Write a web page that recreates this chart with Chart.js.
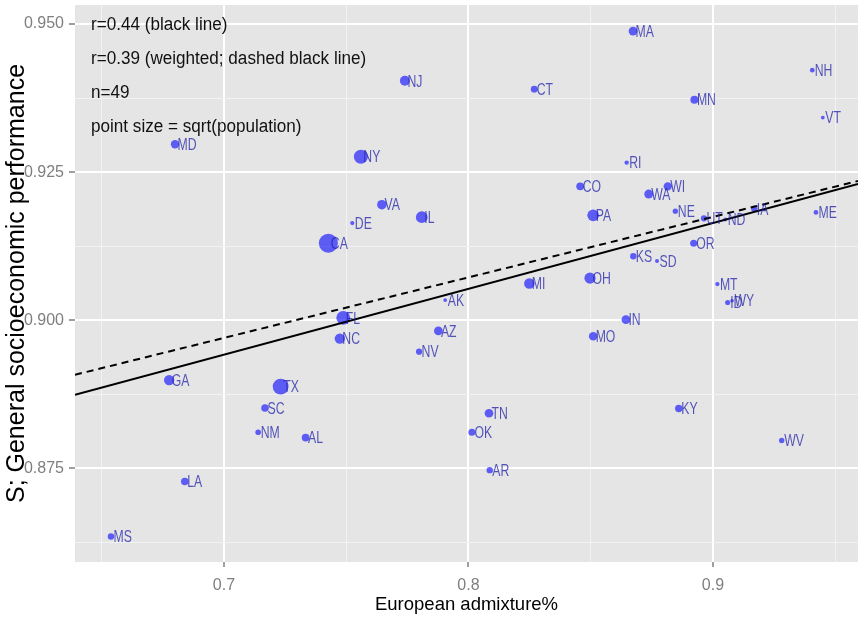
<!DOCTYPE html>
<html>
<head>
<meta charset="utf-8">
<script src="https://cdn.jsdelivr.net/npm/chart.js@4.4.1/dist/chart.umd.min.js"></script>
<style>
  html, body { margin: 0; padding: 0; background: #ffffff; }
  #wrap { width: 860px; height: 626px; }
</style>
</head>
<body>
<div id="wrap"><canvas id="chart" width="860" height="626"></canvas></div>
<script>
// State abbreviations
const states = ['MA','NH','CT','MN','VT','RI','CO','WI','WA','PA','NE','UT','ND','IA','ME','OR','KS','SD','MI','OH','MT','ID','WY','AK','IN','MO','AZ','NV','TN','OK','AR','KY','WV','NJ','MD','NY','VA','IL','DE','CA','FL','NC','GA','TX','SC','NM','AL','LA','MS'];
// European admixture (fraction)
const europeanAdmixture = [0.8673,0.9406,0.8269,0.8924,0.9449,0.8647,0.8457,0.8815,0.8737,0.8510,0.8846,0.8963,0.9050,0.9169,0.9421,0.8921,0.8674,0.8771,0.8249,0.8497,0.9018,0.9060,0.9078,0.7905,0.8644,0.8510,0.7877,0.7798,0.8084,0.8014,0.8087,0.8860,0.9281,0.7740,0.6800,0.7560,0.7646,0.7809,0.7525,0.7427,0.7488,0.7474,0.6776,0.7232,0.7168,0.7140,0.7334,0.6840,0.6538];
// S: general socioeconomic performance
const sScore = [0.9488,0.9422,0.9390,0.9372,0.9342,0.9266,0.9226,0.9226,0.9213,0.9177,0.9184,0.9172,0.9170,0.9188,0.9182,0.9130,0.9108,0.9100,0.9062,0.9071,0.9061,0.9030,0.9033,0.9034,0.9001,0.8973,0.8982,0.8947,0.8843,0.8811,0.8747,0.8851,0.8797,0.9404,0.9297,0.9276,0.9195,0.9174,0.9164,0.9130,0.9004,0.8969,0.8899,0.8888,0.8852,0.8811,0.8802,0.8728,0.8635];
// Population, millions
const populationMillions = [6.5,1.3,3.6,5.3,0.63,1.05,5.0,5.7,6.7,12.7,1.8,2.8,0.67,3.0,1.3,3.8,2.9,0.8,9.9,11.5,1.0,1.6,0.56,0.7,6.5,6.0,6.4,2.7,6.3,3.8,2.9,4.3,1.9,8.8,5.8,19.4,8.0,12.8,0.9,37.3,18.8,9.5,9.7,25.1,4.6,2.1,4.8,4.5,3.0];

// Fitted lines at both ends of the x range
const fitX = [0.6391, 0.9593];
const olsFitY = [0.8874, 0.9230];
const weightedFitY = [0.8908, 0.9235];

// Axis ticks
const xTicks = [0.65, 0.7, 0.75, 0.8, 0.85, 0.9, 0.95];
const xMajor = [0.7, 0.8, 0.9];
const yTicks = [0.8625, 0.875, 0.8875, 0.9, 0.9125, 0.925, 0.9375, 0.95];
const yMajor = [0.875, 0.9, 0.925, 0.95];

const notes = ['r=0.44 (black line)', 'r=0.39 (weighted; dashed black line)', 'n=49', 'point size = sqrt(population)'];

const isIn = (v, list) => list.some(m => Math.abs(m - v) < 1e-9);

const sqrtPop = populationMillions.map(Math.sqrt);
const sMin = Math.min(...sqrtPop), sMax = Math.max(...sqrtPop);
const radiusFor = p => 1.8 + 7.7 * (Math.sqrt(p) - sMin) / (sMax - sMin);

const points = states.map((s, i) => ({ x: europeanAdmixture[i], y: sScore[i], label: s, pop: populationMillions[i] }));

const SANS = "'Liberation Sans', Arial, sans-serif";
const tickFont = { family: SANS, size: 16 };

const panelBg = {
  id: 'panelBg',
  beforeDraw(chart) {
    const { ctx, chartArea: a } = chart;
    ctx.save();
    ctx.fillStyle = '#E5E5E5';
    ctx.fillRect(a.left, a.top, a.right - a.left, a.bottom - a.top);
    ctx.restore();
  }
};

// State abbreviations next to each point, in a condensed face
const stateLabels = {
  id: 'stateLabels',
  afterDatasetsDraw(chart) {
    const { ctx, chartArea: a } = chart;
    const xs = chart.scales.x, ys = chart.scales.y;
    ctx.save();
    ctx.beginPath();
    ctx.rect(a.left, a.top, a.right - a.left, a.bottom - a.top);
    ctx.clip();
    ctx.font = '17px ' + SANS;
    ctx.fillStyle = 'rgba(30,30,170,0.75)';
    ctx.textAlign = 'left';
    ctx.textBaseline = 'middle';
    points.forEach(p => {
      ctx.save();
      ctx.translate(xs.getPixelForValue(p.x) + 2.5, ys.getPixelForValue(p.y) + 1);
      ctx.scale(0.72, 1);
      ctx.fillText(p.label, 0, 0);
      ctx.restore();
    });
    ctx.restore();
  }
};

const notesPlugin = {
  id: 'notes',
  afterDraw(chart) {
    const { ctx, chartArea: a } = chart;
    ctx.save();
    ctx.font = '18px ' + SANS;
    ctx.fillStyle = '#111111';
    ctx.textAlign = 'left';
    ctx.textBaseline = 'middle';
    notes.forEach((t, i) => {
      ctx.save();
      ctx.translate(a.left + 16, a.top + 20 + i * 34);
      ctx.scale(0.95, 1);
      ctx.fillText(t, 0, 0);
      ctx.restore();
    });
    ctx.restore();
  }
};

new Chart(document.getElementById('chart'), {
  type: 'scatter',
  data: {
    datasets: [
      {
        type: 'line',
        data: fitX.map((x, i) => ({ x, y: olsFitY[i] })),
        borderColor: '#000000',
        borderWidth: 2,
        pointRadius: 0,
        fill: false,
        order: 0
      },
      {
        type: 'line',
        data: fitX.map((x, i) => ({ x, y: weightedFitY[i] })),
        borderColor: '#000000',
        borderWidth: 2,
        borderDash: [7, 5],
        pointRadius: 0,
        fill: false,
        order: 0
      },
      {
        data: points,
        pointRadius: ctx => radiusFor(ctx.raw.pop),
        pointHoverRadius: ctx => radiusFor(ctx.raw.pop),
        backgroundColor: 'rgba(0,0,255,0.6)',
        borderWidth: 0,
        order: 1
      }
    ]
  },
  options: {
    responsive: false,
    animation: false,
    events: [],
    layout: { autoPadding: false, padding: { top: 5, right: 2, left: 0, bottom: 0 } },
    plugins: { legend: { display: false }, tooltip: { enabled: false } },
    scales: {
      x: {
        type: 'linear',
        min: 0.6391,
        max: 0.9593,
        afterBuildTicks: s => { s.ticks = xTicks.map(v => ({ value: v })); },
        afterFit: s => { s.height = 64; s.paddingLeft = 0; s.paddingRight = 0; },
        border: { display: false },
        grid: {
          color: c => isIn(c.tick.value, xMajor) ? '#FFFFFF' : '#F2F2F2',
          lineWidth: c => isIn(c.tick.value, xMajor) ? 2 : 1,
          tickColor: c => isIn(c.tick.value, xMajor) ? '#7F7F7F' : 'rgba(0,0,0,0)',
          tickWidth: 1.5,
          tickLength: 5,
          drawTicks: true
        },
        ticks: {
          autoSkip: false,
          maxRotation: 0,
          padding: 9,
          color: '#7F7F7F',
          font: tickFont,
          callback: v => isIn(v, xMajor) ? v.toFixed(1) : ''
        },
        title: {
          display: true,
          text: 'European admixture%',
          color: '#000000',
          font: { family: SANS, size: 18.5 },
          padding: { top: 0, bottom: 10 }
        }
      },
      y: {
        type: 'linear',
        min: 0.8592,
        max: 0.9532,
        afterBuildTicks: s => { s.ticks = yTicks.map(v => ({ value: v })); },
        afterFit: s => { s.width = 75; s.paddingTop = 0; s.paddingBottom = 0; },
        border: { display: false },
        grid: {
          color: c => isIn(c.tick.value, yMajor) ? '#FFFFFF' : '#F2F2F2',
          lineWidth: c => isIn(c.tick.value, yMajor) ? 2 : 1,
          tickColor: c => isIn(c.tick.value, yMajor) ? '#7F7F7F' : 'rgba(0,0,0,0)',
          tickWidth: 1.5,
          tickLength: 6,
          drawTicks: true
        },
        ticks: {
          autoSkip: false,
          padding: 5,
          color: '#7F7F7F',
          font: tickFont,
          callback: v => isIn(v, yMajor) ? v.toFixed(3) : ''
        },
        title: {
          display: true,
          text: 'S; General socioeconomic performance',
          color: '#000000',
          font: { family: SANS, size: 25 },
          padding: { top: 2, bottom: 0 }
        }
      }
    }
  },
  plugins: [panelBg, stateLabels, notesPlugin]
});
</script>
</body>
</html>
